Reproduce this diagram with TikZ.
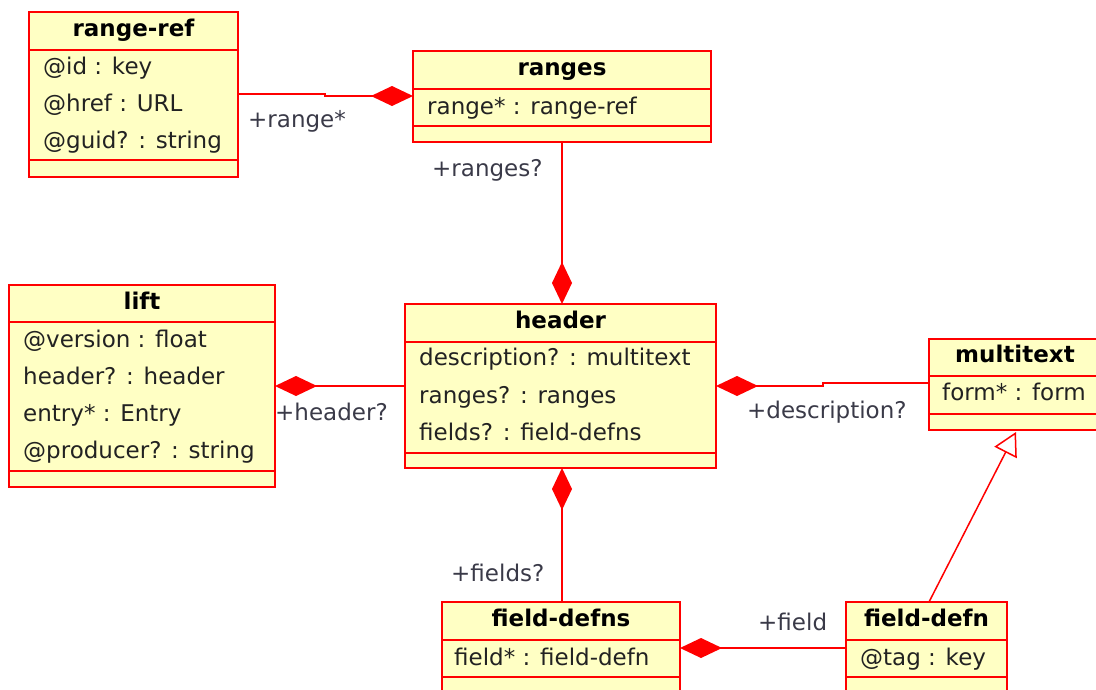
\documentclass[tikz,border=0pt]{standalone}
\usepackage{fontspec}
\setmainfont{DejaVu Sans}
\usetikzlibrary{arrows.meta}
\definecolor{clsfill}{RGB}{255,255,196}
\definecolor{clsline}{RGB}{255,0,0}
\definecolor{rowtext}{RGB}{34,34,34}
\definecolor{labtext}{RGB}{58,58,72}
\tikzset{
  cls/.style={draw=clsline, fill=clsfill, line width=2pt, anchor=north west, inner sep=0pt, outer sep=0pt},
  sepline/.style={draw=clsline, line width=2pt},
  ctitle/.style={font=\fontsize{23}{27}\selectfont\bfseries, text=black, inner sep=0pt, text height=18pt, text depth=4pt},
  crow/.style={font=\fontsize{23}{27}\selectfont, text=rowtext, anchor=west, inner sep=0pt, text height=19pt, text depth=3pt},
  rlabel/.style={font=\fontsize{23}{27}\selectfont, text=labtext, anchor=west, inner sep=0pt, text height=19pt, text depth=3pt},
  comp/.style={draw=clsline, line width=2pt, {Diamond[length=42pt,width=20pt,fill=clsline]}-},
  gen/.style={draw=clsline, line width=1.5pt, -{Triangle[open,length=23pt,width=25pt,fill=white]}},
}
\begin{document}
\begin{tikzpicture}[x=1pt,y=-1pt]
\useasboundingbox (0,0) rectangle (1096,689);
\clip (0,0) rectangle (1096,689);
% range-ref
\node[cls, minimum width=209pt, minimum height=165pt] (rangeref) at (29,12) {};
\draw[sepline] (rangeref.west |- 0,50) -- (rangeref.east |- 0,50);
\draw[sepline] (rangeref.west |- 0,160) -- (rangeref.east |- 0,160);
\node[ctitle] (rangeref-t) at (133.5,29) {range-ref};
\node[crow] (rangeref-r1) at (43,66) {@id : key};
\node[crow] (rangeref-r2) at (43,103) {@href : URL};
\node[crow] (rangeref-r3) at (43,140) {@guid? : string};
% ranges
\node[cls, minimum width=298pt, minimum height=91pt] (ranges) at (413,51) {};
\draw[sepline] (ranges.west |- 0,89) -- (ranges.east |- 0,89);
\draw[sepline] (ranges.west |- 0,126) -- (ranges.east |- 0,126);
\node[ctitle] (ranges-t) at (562,68) {ranges};
\node[crow] (ranges-r1) at (427,106) {range* : range-ref};
% lift
\node[cls, minimum width=266pt, minimum height=202pt] (lift) at (9,285) {};
\draw[sepline] (lift.west |- 0,322) -- (lift.east |- 0,322);
\draw[sepline] (lift.west |- 0,471) -- (lift.east |- 0,471);
\node[ctitle] (lift-t) at (142,302) {lift};
\node[crow] (lift-r1) at (23,339) {@version : float};
\node[crow] (lift-r2) at (23,376) {header? : header};
\node[crow] (lift-r3) at (23,413) {entry* : Entry};
\node[crow] (lift-r4) at (23,450) {@producer? : string};
% header
\node[cls, minimum width=311pt, minimum height=164pt] (header) at (405,304) {};
\draw[sepline] (header.west |- 0,342) -- (header.east |- 0,342);
\draw[sepline] (header.west |- 0,453) -- (header.east |- 0,453);
\node[ctitle] (header-t) at (560.5,321) {header};
\node[crow] (header-r1) at (419,357) {description? : multitext};
\node[crow] (header-r2) at (419,395) {ranges? : ranges};
\node[crow] (header-r3) at (419,432) {fields? : field-defns};
% multitext
\node[cls, minimum width=172pt, minimum height=91pt] (multitext) at (929,339) {};
\draw[sepline] (multitext.west |- 0,376) -- (multitext.east |- 0,376);
\draw[sepline] (multitext.west |- 0,414) -- (multitext.east |- 0,414);
\node[ctitle] (multitext-t) at (1015,355) {multitext};
\node[crow] (multitext-r1) at (942,392) {form* : form};
% field-defns
\node[cls, minimum width=238pt, minimum height=110pt] (fielddefns) at (442,602) {};
\draw[sepline] (fielddefns.west |- 0,640) -- (fielddefns.east |- 0,640);
\draw[sepline] (fielddefns.west |- 0,677) -- (fielddefns.east |- 0,677);
\node[ctitle] (fielddefns-t) at (561,619) {field-defns};
\node[crow] (fielddefns-r1) at (454,657) {field* : field-defn};
% field-defn
\node[cls, minimum width=161pt, minimum height=110pt] (fielddefn) at (846,602) {};
\draw[sepline] (fielddefn.west |- 0,640) -- (fielddefn.east |- 0,640);
\draw[sepline] (fielddefn.west |- 0,677) -- (fielddefn.east |- 0,677);
\node[ctitle] (fielddefn-t) at (926.5,619) {field-defn};
\node[crow] (fielddefn-r1) at (860,657) {@tag : key};
% connectors
\coordinate (k1) at (325,96);
\coordinate (k2) at (325,94);
\draw[comp] (ranges.west |- k1) -- (k1) -- (k2) -- (rangeref.east |- k2);
\coordinate (k3) at (562,0);
\draw[comp] (header.north -| k3) -- (ranges.south -| k3);
\coordinate (k4) at (0,386);
\draw[comp] (lift.east |- k4) -- (header.west |- k4);
\coordinate (k5) at (823,386);
\coordinate (k6) at (823,383);
\draw[comp] (header.east |- k5) -- (k5) -- (k6) -- (multitext.west |- k6);
\draw[comp] (header.south -| k3) -- (fielddefns.north -| k3);
\coordinate (k7) at (0,648);
\draw[comp] (fielddefns.east |- k7) -- (fielddefn.west |- k7);
\coordinate (k8) at (929,0);
\coordinate (k9) at (1016,432);
\draw[gen] (fielddefn.north -| k8) -- (k9);
% labels
\node[rlabel] (l1) at (248,119) {+range*};
\node[rlabel] (l2) at (432,168) {+ranges?};
\node[rlabel] (l3) at (275,412) {+header?};
\node[rlabel] (l4) at (747,410) {+description?};
\node[rlabel] (l5) at (451,573) {+fields?};
\node[rlabel] (l6) at (758,622) {+field};
\end{tikzpicture}
\end{document}
